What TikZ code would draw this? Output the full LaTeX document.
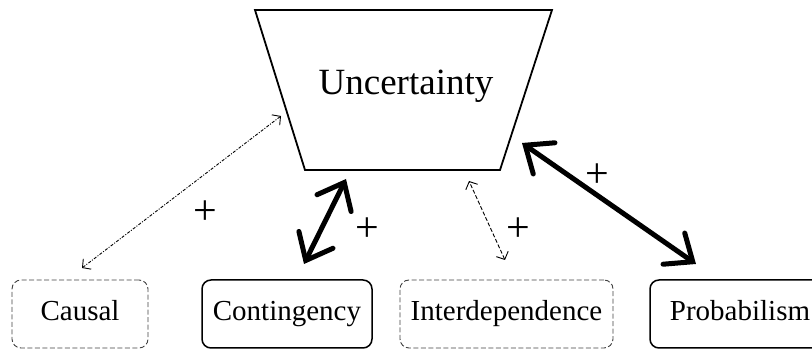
\documentclass[tikz,border=0pt]{standalone}
\usepackage{fontspec}
\setmainfont{Liberation Serif}
\usetikzlibrary{arrows.meta}
\begin{document}
\begin{tikzpicture}[x=1pt,y=1pt,
  boxtext/.style={font=\fontsize{29}{32}\selectfont, inner sep=0pt, text height=21pt, text depth=7pt, minimum height=68pt, rounded corners=9pt},
  solidbox/.style={boxtext, draw, line width=1.5pt},
  dashbox/.style={boxtext, draw=black!75, line width=0.9pt, dash pattern=on 5pt off 2.5pt},
  thickarr/.style={line width=5pt, line cap=round, {Straight Barb[length=23pt,width=38pt,line cap=round]}-{Straight Barb[length=23pt,width=38pt,line cap=round]}},
  thinarr/.style={line width=0.9pt, dash pattern=on 4pt off 2pt, {Straight Barb[length=6pt,width=13pt]}-{Straight Barb[length=6pt,width=13pt]}},
  plus/.style={font=\fontsize{42}{44}\selectfont, inner sep=0pt}]
\useasboundingbox (0,0) rectangle (812,353);
% trapezoid
\draw[line width=1.8pt] (255,343) -- (552,343) -- (500,183) -- (305,183) -- cycle;
\node[font=\fontsize{37}{40}\selectfont, inner sep=0pt, anchor=base] (unc) at (406,258) {Uncertainty};
% boxes
\node[dashbox, minimum width=136pt] (causal) at (80,39) {Causal};
\node[solidbox, minimum width=170pt] (cont) at (287,39) {Contingency};
\node[dashbox, minimum width=213pt] (inter) at (506.5,39) {Interdependence};
\node[solidbox, minimum width=180pt] (prob) at (740,39) {Probabilism};
% arrow end points
\coordinate (c1) at (82,85);
\coordinate (c2) at (281,237);
\coordinate (k1) at (304,89);
\coordinate (k2) at (346,174);
\coordinate (i1) at (505,93);
\coordinate (i2) at (469,172);
\coordinate (p1) at (696,89);
\coordinate (p2) at (522,210);
\draw[thinarr, dash pattern=on 3pt off 1.5pt on 1pt off 1.5pt] (c1) -- (c2);
\draw[thickarr] (k1) -- (k2);
\draw[thinarr] (i1) -- (i2);
\draw[thickarr] (p1) -- (p2);
% labels
\node[plus] (pl1) at (205,140) {+};
\node[plus] (pl2) at (367,123) {+};
\node[plus] (pl3) at (518,123) {+};
\node[plus] (pl4) at (597,177) {+};
\end{tikzpicture}
\end{document}
